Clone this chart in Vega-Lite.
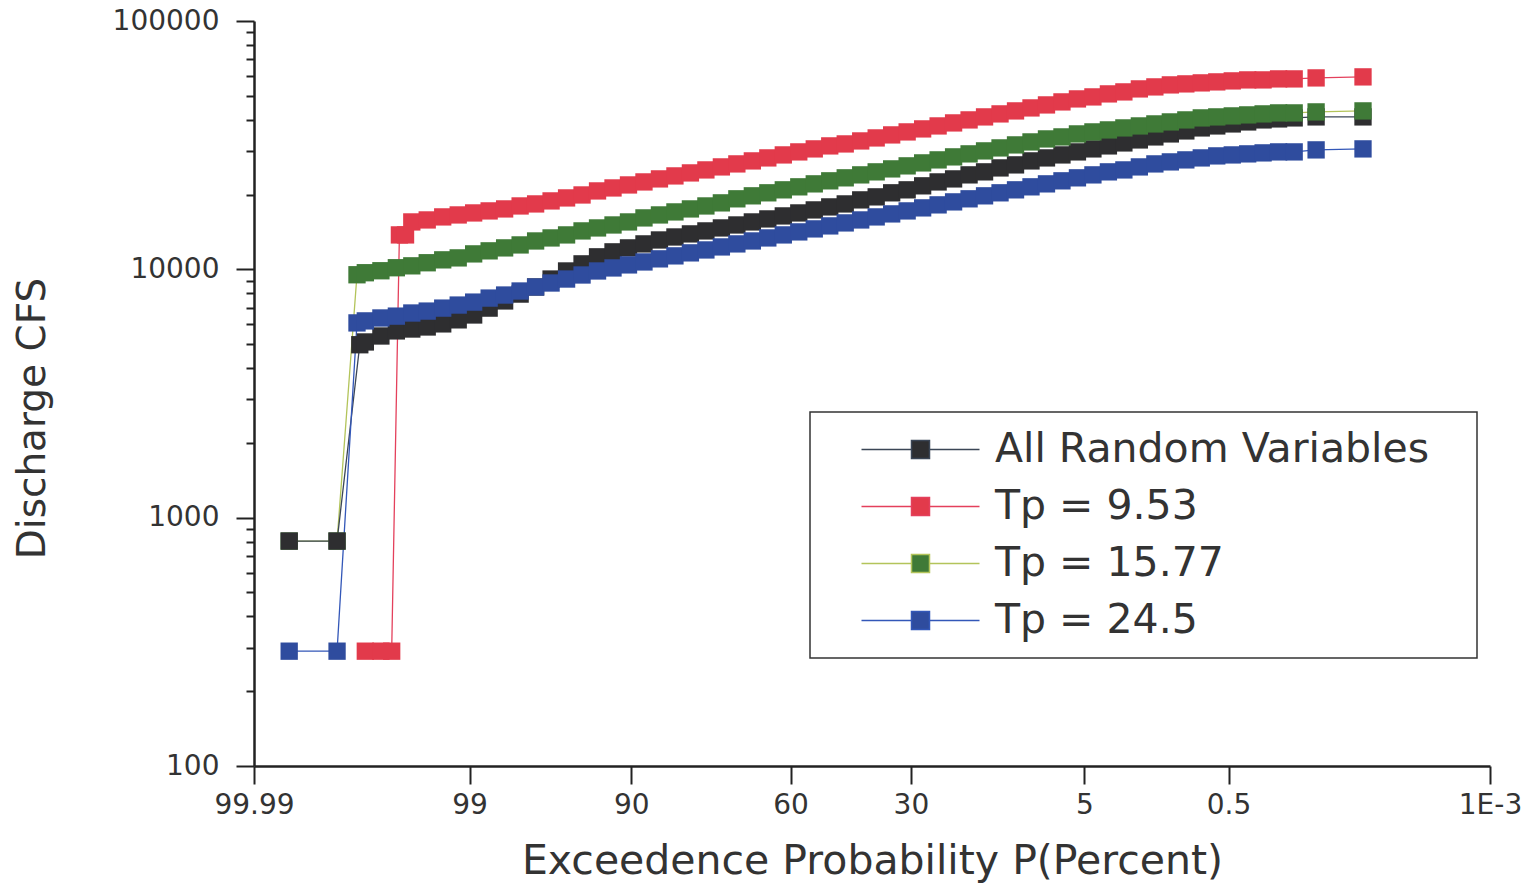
{
  "$schema": "https://vega.github.io/schema/vega-lite/v6.json",
  "width": 1236,
  "height": 745,
  "autosize": {"type": "none"},
  "padding": {"left": 254, "top": 21, "right": 43, "bottom": 119},
  "background": "white",
  "config": {"view": {"stroke": null}, "axis": {"grid": false}, "font": "DejaVu Sans",
    "legend": {"orient": "none", "legendX": 556, "legendY": 391, "title": null,
      "symbolType": "M-5.9,0H-0.9M0.9,0H5.9M-0.9,-0.9H0.9V0.9H-0.9Z",
      "symbolSize": 400, "symbolStrokeWidth": 1.5, "symbolOffset": 73,
      "labelOffset": 54, "labelFont": "DejaVu Sans", "labelFontSize": 41, "labelColor": "#333", "labelLimit": 1000,
      "rowPadding": 15, "padding": 17, "strokeColor": "#333", "strokeWidth": 1.5, "fillColor": "white"}},
  "data": {"values": [
    {"series":"Tp = 15.77","P":99.976,"Q":805},{"series":"Tp = 15.77","P":99.927,"Q":805},
    {"series":"All Random Variables","P":99.976,"Q":805},{"series":"All Random Variables","P":99.927,"Q":805},{"series":"All Random Variables","P":99.88,"Q":4970},{"series":"All Random Variables","P":99.865,"Q":5100},{"series":"All Random Variables","P":99.813,"Q":5390},{"series":"All Random Variables","P":99.744,"Q":5650},{"series":"All Random Variables","P":99.653,"Q":5750},{"series":"All Random Variables","P":99.534,"Q":5860},{"series":"All Random Variables","P":99.379,"Q":6030},{"series":"All Random Variables","P":99.18,"Q":6260},{"series":"All Random Variables","P":98.928,"Q":6550},{"series":"All Random Variables","P":98.61,"Q":6980},{"series":"All Random Variables","P":98.214,"Q":7460},{"series":"All Random Variables","P":97.725,"Q":7950},{"series":"All Random Variables","P":97.128,"Q":8490},{"series":"All Random Variables","P":96.407,"Q":9140},{"series":"All Random Variables","P":95.543,"Q":9850},{"series":"All Random Variables","P":94.52,"Q":10520},{"series":"All Random Variables","P":93.319,"Q":11230},{"series":"All Random Variables","P":91.924,"Q":11760},{"series":"All Random Variables","P":90.32,"Q":12200},{"series":"All Random Variables","P":88.493,"Q":12660},{"series":"All Random Variables","P":86.433,"Q":13130},{"series":"All Random Variables","P":84.134,"Q":13500},{"series":"All Random Variables","P":81.594,"Q":13890},{"series":"All Random Variables","P":78.814,"Q":14280},{"series":"All Random Variables","P":75.804,"Q":14680},{"series":"All Random Variables","P":72.575,"Q":15090},{"series":"All Random Variables","P":69.146,"Q":15520},{"series":"All Random Variables","P":65.542,"Q":15960},{"series":"All Random Variables","P":61.791,"Q":16410},{"series":"All Random Variables","P":57.926,"Q":16870},{"series":"All Random Variables","P":53.983,"Q":17350},{"series":"All Random Variables","P":50,"Q":17840},{"series":"All Random Variables","P":46.017,"Q":18340},{"series":"All Random Variables","P":42.074,"Q":19040},{"series":"All Random Variables","P":38.209,"Q":19580},{"series":"All Random Variables","P":34.458,"Q":20330},{"series":"All Random Variables","P":30.854,"Q":20900},{"series":"All Random Variables","P":27.425,"Q":21690},{"series":"All Random Variables","P":24.196,"Q":22490},{"series":"All Random Variables","P":21.186,"Q":23130},{"series":"All Random Variables","P":18.406,"Q":24010},{"series":"All Random Variables","P":15.866,"Q":24690},{"series":"All Random Variables","P":13.567,"Q":25610},{"series":"All Random Variables","P":11.507,"Q":26340},{"series":"All Random Variables","P":9.68,"Q":27330},{"series":"All Random Variables","P":8.076,"Q":28100},{"series":"All Random Variables","P":6.681,"Q":28890},{"series":"All Random Variables","P":5.48,"Q":29710},{"series":"All Random Variables","P":4.457,"Q":30550},{"series":"All Random Variables","P":3.593,"Q":31410},{"series":"All Random Variables","P":2.872,"Q":32290},{"series":"All Random Variables","P":2.275,"Q":33200},{"series":"All Random Variables","P":1.786,"Q":34140},{"series":"All Random Variables","P":1.39,"Q":35100},{"series":"All Random Variables","P":1.072,"Q":36090},{"series":"All Random Variables","P":0.82,"Q":37110},{"series":"All Random Variables","P":0.621,"Q":37800},{"series":"All Random Variables","P":0.466,"Q":38510},{"series":"All Random Variables","P":0.347,"Q":39230},{"series":"All Random Variables","P":0.256,"Q":39970},{"series":"All Random Variables","P":0.187,"Q":40340},{"series":"All Random Variables","P":0.135,"Q":40720},{"series":"All Random Variables","P":0.084,"Q":41100},{"series":"All Random Variables","P":0.0286,"Q":41100},
    {"series":"Tp = 9.53","P":99.865,"Q":290},{"series":"Tp = 9.53","P":99.813,"Q":290},{"series":"Tp = 9.53","P":99.767,"Q":290},{"series":"Tp = 9.53","P":99.728,"Q":13760},{"series":"Tp = 9.53","P":99.693,"Q":13760},{"series":"Tp = 9.53","P":99.653,"Q":15520},{"series":"Tp = 9.53","P":99.534,"Q":15810},{"series":"Tp = 9.53","P":99.379,"Q":16260},{"series":"Tp = 9.53","P":99.18,"Q":16560},{"series":"Tp = 9.53","P":98.928,"Q":16870},{"series":"Tp = 9.53","P":98.61,"Q":17190},{"series":"Tp = 9.53","P":98.214,"Q":17510},{"series":"Tp = 9.53","P":97.725,"Q":18000},{"series":"Tp = 9.53","P":97.128,"Q":18340},{"series":"Tp = 9.53","P":96.407,"Q":18860},{"series":"Tp = 9.53","P":95.543,"Q":19390},{"series":"Tp = 9.53","P":94.52,"Q":19930},{"series":"Tp = 9.53","P":93.319,"Q":20690},{"series":"Tp = 9.53","P":91.924,"Q":21270},{"series":"Tp = 9.53","P":90.32,"Q":21870},{"series":"Tp = 9.53","P":88.493,"Q":22490},{"series":"Tp = 9.53","P":86.433,"Q":23130},{"series":"Tp = 9.53","P":84.134,"Q":23780},{"series":"Tp = 9.53","P":81.594,"Q":24450},{"series":"Tp = 9.53","P":78.814,"Q":25140},{"series":"Tp = 9.53","P":75.804,"Q":25850},{"series":"Tp = 9.53","P":72.575,"Q":26580},{"series":"Tp = 9.53","P":69.146,"Q":27330},{"series":"Tp = 9.53","P":65.542,"Q":28100},{"series":"Tp = 9.53","P":61.791,"Q":28890},{"series":"Tp = 9.53","P":57.926,"Q":29710},{"series":"Tp = 9.53","P":53.983,"Q":30550},{"series":"Tp = 9.53","P":50,"Q":31410},{"series":"Tp = 9.53","P":46.017,"Q":31990},{"series":"Tp = 9.53","P":42.074,"Q":32890},{"series":"Tp = 9.53","P":38.209,"Q":33820},{"series":"Tp = 9.53","P":34.458,"Q":34780},{"series":"Tp = 9.53","P":30.854,"Q":35760},{"series":"Tp = 9.53","P":27.425,"Q":36770},{"series":"Tp = 9.53","P":24.196,"Q":37800},{"series":"Tp = 9.53","P":21.186,"Q":38870},{"series":"Tp = 9.53","P":18.406,"Q":39970},{"series":"Tp = 9.53","P":15.866,"Q":41100},{"series":"Tp = 9.53","P":13.567,"Q":42260},{"series":"Tp = 9.53","P":11.507,"Q":43450},{"series":"Tp = 9.53","P":9.68,"Q":44670},{"series":"Tp = 9.53","P":8.076,"Q":45930},{"series":"Tp = 9.53","P":6.681,"Q":47230},{"series":"Tp = 9.53","P":5.48,"Q":48560},{"series":"Tp = 9.53","P":4.457,"Q":49470},{"series":"Tp = 9.53","P":3.593,"Q":50870},{"series":"Tp = 9.53","P":2.872,"Q":51820},{"series":"Tp = 9.53","P":2.275,"Q":53280},{"series":"Tp = 9.53","P":1.786,"Q":54280},{"series":"Tp = 9.53","P":1.39,"Q":55300},{"series":"Tp = 9.53","P":1.072,"Q":55820},{"series":"Tp = 9.53","P":0.82,"Q":56340},{"series":"Tp = 9.53","P":0.621,"Q":56860},{"series":"Tp = 9.53","P":0.466,"Q":57390},{"series":"Tp = 9.53","P":0.347,"Q":57920},{"series":"Tp = 9.53","P":0.256,"Q":57920},{"series":"Tp = 9.53","P":0.187,"Q":58460},{"series":"Tp = 9.53","P":0.135,"Q":58460},{"series":"Tp = 9.53","P":0.084,"Q":59000},{"series":"Tp = 9.53","P":0.0286,"Q":59560},
    {"series":"Tp = 15.77","P":99.887,"Q":9510},{"series":"Tp = 15.77","P":99.865,"Q":9690},{"series":"Tp = 15.77","P":99.813,"Q":9870},{"series":"Tp = 15.77","P":99.744,"Q":10150},{"series":"Tp = 15.77","P":99.653,"Q":10330},{"series":"Tp = 15.77","P":99.534,"Q":10630},{"series":"Tp = 15.77","P":99.379,"Q":10920},{"series":"Tp = 15.77","P":99.18,"Q":11120},{"series":"Tp = 15.77","P":98.928,"Q":11540},{"series":"Tp = 15.77","P":98.61,"Q":11870},{"series":"Tp = 15.77","P":98.214,"Q":12200},{"series":"Tp = 15.77","P":97.725,"Q":12540},{"series":"Tp = 15.77","P":97.128,"Q":13010},{"series":"Tp = 15.77","P":96.407,"Q":13380},{"series":"Tp = 15.77","P":95.543,"Q":13760},{"series":"Tp = 15.77","P":94.52,"Q":14280},{"series":"Tp = 15.77","P":93.319,"Q":14680},{"series":"Tp = 15.77","P":91.924,"Q":15090},{"series":"Tp = 15.77","P":90.32,"Q":15520},{"series":"Tp = 15.77","P":88.493,"Q":16110},{"series":"Tp = 15.77","P":86.433,"Q":16560},{"series":"Tp = 15.77","P":84.134,"Q":17030},{"series":"Tp = 15.77","P":81.594,"Q":17510},{"series":"Tp = 15.77","P":78.814,"Q":18000},{"series":"Tp = 15.77","P":75.804,"Q":18520},{"series":"Tp = 15.77","P":72.575,"Q":19230},{"series":"Tp = 15.77","P":69.146,"Q":19770},{"series":"Tp = 15.77","P":65.542,"Q":20330},{"series":"Tp = 15.77","P":61.791,"Q":20900},{"series":"Tp = 15.77","P":57.926,"Q":21490},{"series":"Tp = 15.77","P":53.983,"Q":22090},{"series":"Tp = 15.77","P":50,"Q":22720},{"series":"Tp = 15.77","P":46.017,"Q":23360},{"series":"Tp = 15.77","P":42.074,"Q":24010},{"series":"Tp = 15.77","P":38.209,"Q":24690},{"series":"Tp = 15.77","P":34.458,"Q":25380},{"series":"Tp = 15.77","P":30.854,"Q":26100},{"series":"Tp = 15.77","P":27.425,"Q":26830},{"series":"Tp = 15.77","P":24.196,"Q":27590},{"series":"Tp = 15.77","P":21.186,"Q":28370},{"series":"Tp = 15.77","P":18.406,"Q":29170},{"series":"Tp = 15.77","P":15.866,"Q":29990},{"series":"Tp = 15.77","P":13.567,"Q":30830},{"series":"Tp = 15.77","P":11.507,"Q":31700},{"series":"Tp = 15.77","P":9.68,"Q":32590},{"series":"Tp = 15.77","P":8.076,"Q":33510},{"series":"Tp = 15.77","P":6.681,"Q":34140},{"series":"Tp = 15.77","P":5.48,"Q":35100},{"series":"Tp = 15.77","P":4.457,"Q":35760},{"series":"Tp = 15.77","P":3.593,"Q":36430},{"series":"Tp = 15.77","P":2.872,"Q":37110},{"series":"Tp = 15.77","P":2.275,"Q":37800},{"series":"Tp = 15.77","P":1.786,"Q":38510},{"series":"Tp = 15.77","P":1.39,"Q":39230},{"series":"Tp = 15.77","P":1.072,"Q":39970},{"series":"Tp = 15.77","P":0.82,"Q":40720},{"series":"Tp = 15.77","P":0.621,"Q":41100},{"series":"Tp = 15.77","P":0.466,"Q":41480},{"series":"Tp = 15.77","P":0.347,"Q":41870},{"series":"Tp = 15.77","P":0.256,"Q":42260},{"series":"Tp = 15.77","P":0.187,"Q":42650},{"series":"Tp = 15.77","P":0.135,"Q":42650},{"series":"Tp = 15.77","P":0.084,"Q":43050},{"series":"Tp = 15.77","P":0.0286,"Q":43450},
    {"series":"Tp = 24.5","P":99.976,"Q":290},{"series":"Tp = 24.5","P":99.927,"Q":290},{"series":"Tp = 24.5","P":99.887,"Q":6085},{"series":"Tp = 24.5","P":99.865,"Q":6200},{"series":"Tp = 24.5","P":99.813,"Q":6370},{"series":"Tp = 24.5","P":99.744,"Q":6480},{"series":"Tp = 24.5","P":99.653,"Q":6670},{"series":"Tp = 24.5","P":99.534,"Q":6790},{"series":"Tp = 24.5","P":99.379,"Q":6980},{"series":"Tp = 24.5","P":99.18,"Q":7180},{"series":"Tp = 24.5","P":98.928,"Q":7380},{"series":"Tp = 24.5","P":98.61,"Q":7660},{"series":"Tp = 24.5","P":98.214,"Q":7880},{"series":"Tp = 24.5","P":97.725,"Q":8180},{"series":"Tp = 24.5","P":97.128,"Q":8490},{"series":"Tp = 24.5","P":96.407,"Q":8810},{"series":"Tp = 24.5","P":95.543,"Q":9140},{"series":"Tp = 24.5","P":94.52,"Q":9490},{"series":"Tp = 24.5","P":93.319,"Q":9850},{"series":"Tp = 24.5","P":91.924,"Q":10130},{"series":"Tp = 24.5","P":90.32,"Q":10420},{"series":"Tp = 24.5","P":88.493,"Q":10710},{"series":"Tp = 24.5","P":86.433,"Q":11020},{"series":"Tp = 24.5","P":84.134,"Q":11330},{"series":"Tp = 24.5","P":81.594,"Q":11650},{"series":"Tp = 24.5","P":78.814,"Q":11970},{"series":"Tp = 24.5","P":75.804,"Q":12310},{"series":"Tp = 24.5","P":72.575,"Q":12660},{"series":"Tp = 24.5","P":69.146,"Q":13010},{"series":"Tp = 24.5","P":65.542,"Q":13380},{"series":"Tp = 24.5","P":61.791,"Q":13760},{"series":"Tp = 24.5","P":57.926,"Q":14150},{"series":"Tp = 24.5","P":53.983,"Q":14550},{"series":"Tp = 24.5","P":50,"Q":14960},{"series":"Tp = 24.5","P":46.017,"Q":15380},{"series":"Tp = 24.5","P":42.074,"Q":15810},{"series":"Tp = 24.5","P":38.209,"Q":16260},{"series":"Tp = 24.5","P":34.458,"Q":16720},{"series":"Tp = 24.5","P":30.854,"Q":17190},{"series":"Tp = 24.5","P":27.425,"Q":17680},{"series":"Tp = 24.5","P":24.196,"Q":18180},{"series":"Tp = 24.5","P":21.186,"Q":18690},{"series":"Tp = 24.5","P":18.406,"Q":19230},{"series":"Tp = 24.5","P":15.866,"Q":19770},{"series":"Tp = 24.5","P":13.567,"Q":20330},{"series":"Tp = 24.5","P":11.507,"Q":20900},{"series":"Tp = 24.5","P":9.68,"Q":21490},{"series":"Tp = 24.5","P":8.076,"Q":22090},{"series":"Tp = 24.5","P":6.681,"Q":22720},{"series":"Tp = 24.5","P":5.48,"Q":23360},{"series":"Tp = 24.5","P":4.457,"Q":24010},{"series":"Tp = 24.5","P":3.593,"Q":24690},{"series":"Tp = 24.5","P":2.872,"Q":25140},{"series":"Tp = 24.5","P":2.275,"Q":25850},{"series":"Tp = 24.5","P":1.786,"Q":26580},{"series":"Tp = 24.5","P":1.39,"Q":27080},{"series":"Tp = 24.5","P":1.072,"Q":27590},{"series":"Tp = 24.5","P":0.82,"Q":28100},{"series":"Tp = 24.5","P":0.621,"Q":28630},{"series":"Tp = 24.5","P":0.466,"Q":28890},{"series":"Tp = 24.5","P":0.347,"Q":29170},{"series":"Tp = 24.5","P":0.256,"Q":29440},{"series":"Tp = 24.5","P":0.187,"Q":29710},{"series":"Tp = 24.5","P":0.135,"Q":29710},{"series":"Tp = 24.5","P":0.084,"Q":30270},{"series":"Tp = 24.5","P":0.0286,"Q":30550}
  ]},
  "transform": [{"calculate": "quantileNormal(1 - datum.P / 100)", "as": "z"}],
  "layer": [
    {
      "mark": {"type": "line", "strokeWidth": 1.3},
      "encoding": {
        "x": {"field": "z", "type": "quantitative", "scale": {"domain": [-3.719, 4.2649], "nice": false, "zero": false},
          "axis": {"values": [-3.719, -2.3263, -1.2816, -0.2533, 0.5244, 1.6449, 2.5758, 4.2649],
            "labelExpr": "datum.value < -3 ? '99.99' : datum.value < -2 ? '99' : datum.value < -1 ? '90' : datum.value < 0 ? '60' : datum.value < 1 ? '30' : datum.value < 2 ? '5' : datum.value < 3 ? '0.5' : '1E-3'",
            "labelFlush": false, "labelOverlap": false, "tickSize": 18, "tickWidth": 2, "tickColor": "#222", "domainColor": "#222", "domainWidth": 2.5,
            "labelFont": "DejaVu Sans", "labelFontSize": 28, "labelColor": "#333", "labelBaseline": "alphabetic", "labelPadding": 29,
            "title": "Exceedence Probability P(Percent)", "titleFont": "DejaVu Sans", "titleFontSize": 41, "titleFontWeight": "normal", "titleColor": "#333",
            "titleBaseline": "alphabetic", "titleY": 107}},
        "y": {"field": "Q", "type": "quantitative", "scale": {"type": "log", "domain": [100, 100000], "nice": false},
          "axis": {"orient": "left", "values": [200,300,400,500,600,700,800,900,2000,3000,4000,5000,6000,7000,8000,9000,20000,30000,40000,50000,60000,70000,80000,90000],
            "labels": false, "domain": false, "tickSize": 8, "tickWidth": 2, "tickColor": "#222", "title": null}},
        "stroke": {"field": "series", "type": "nominal",
          "scale": {"domain": ["All Random Variables", "Tp = 9.53", "Tp = 15.77", "Tp = 24.5"], "range": ["#3b4656", "#e4405c", "#b3c45a", "#3357b8"]},
          "legend": {
            "encode": {"symbols": {"update": {"stroke": {"scale": "stroke", "field": "value"}, "fill": {"scale": "fill", "field": "value"}, "size": {"value": 400}, "opacity": {"value": 1}, "strokeWidth": {"value": 1.5}}},
              "labels": {"update": {"text": {"signal": "datum.label + '\u2800'"}}}}}}
      }
    },
    {
      "mark": {"type": "point", "shape": "square", "filled": true, "size": 300, "opacity": 1, "strokeWidth": 0},
      "encoding": {
        "x": {"field": "z", "type": "quantitative", "scale": {"domain": [-3.719, 4.2649], "nice": false, "zero": false},
          "axis": {"values": [-3.719, -2.3263, -1.2816, -0.2533, 0.5244, 1.6449, 2.5758, 4.2649],
            "labelExpr": "datum.value < -3 ? '99.99' : datum.value < -2 ? '99' : datum.value < -1 ? '90' : datum.value < 0 ? '60' : datum.value < 1 ? '30' : datum.value < 2 ? '5' : datum.value < 3 ? '0.5' : '1E-3'",
            "labelFlush": false, "labelOverlap": false, "tickSize": 18, "tickWidth": 2, "tickColor": "#222", "domainColor": "#222", "domainWidth": 2.5,
            "labelFont": "DejaVu Sans", "labelFontSize": 28, "labelColor": "#333", "labelBaseline": "alphabetic", "labelPadding": 29,
            "title": "Exceedence Probability P(Percent)", "titleFont": "DejaVu Sans", "titleFontSize": 41, "titleFontWeight": "normal", "titleColor": "#333",
            "titleBaseline": "alphabetic", "titleY": 107}},
        "y": {"field": "Q", "type": "quantitative", "scale": {"type": "log", "domain": [100, 100000], "nice": false},
          "axis": {"orient": "left", "values": [100, 1000, 10000, 100000], "format": "d", "labelOverlap": false,
            "tickSize": 18, "tickWidth": 2, "tickColor": "#222", "domainColor": "#222", "domainWidth": 2.5,
            "labelFont": "DejaVu Sans", "labelFontSize": 28, "labelColor": "#333", "labelPadding": 17,
            "title": "Discharge CFS", "titleFont": "DejaVu Sans", "titleFontSize": 39, "titleFontWeight": "normal", "titleColor": "#333",
            "titleAngle": -90, "titleAlign": "center", "titleBaseline": "alphabetic", "titleX": -210, "titleY": 397}},
        "fill": {"field": "series", "type": "nominal",
          "scale": {"domain": ["All Random Variables", "Tp = 9.53", "Tp = 15.77", "Tp = 24.5"], "range": ["#2e2e30", "#e23a4b", "#3f7a37", "#2f4c9e"]},
          "legend": {
            "encode": {"symbols": {"update": {"stroke": {"scale": "stroke", "field": "value"}, "fill": {"scale": "fill", "field": "value"}, "size": {"value": 400}, "opacity": {"value": 1}, "strokeWidth": {"value": 1.5}}},
              "labels": {"update": {"text": {"signal": "datum.label + '\u2800'"}}}}}}
      }
    }
  ],
  "resolve": {"axis": {"y": "independent"}}
}
